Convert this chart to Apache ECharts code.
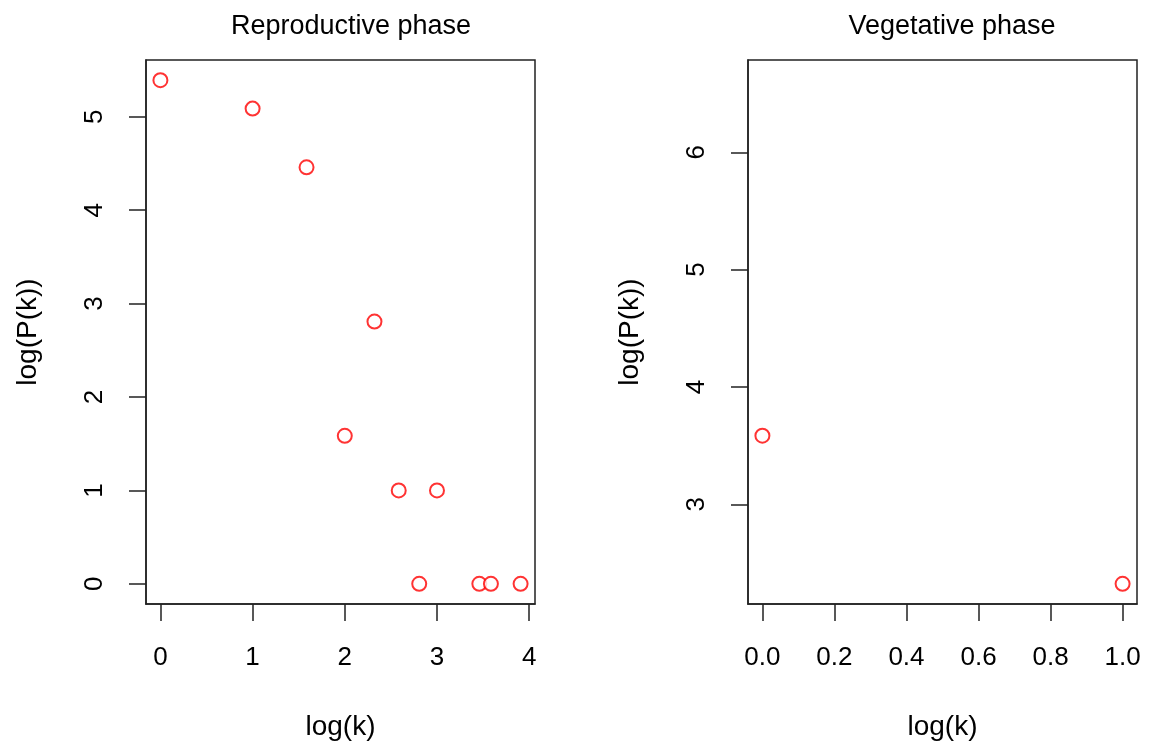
<!DOCTYPE html>
<html>
<head>
<meta charset="utf-8">
<title>log(P(k)) vs log(k)</title>
<script src="https://cdn.jsdelivr.net/npm/echarts@6/dist/echarts.min.js"></script>
<style>
  html, body { margin: 0; padding: 0; background: #fff; }
  #chart { width: 1149px; height: 747px; }
</style>
</head>
<body>
<div id="chart"></div>
<script>
// data (log2 values)
var reproX = [0, 1, 1.585, 2, 2.3219, 2.585, 2.8074, 3, 3.4594, 3.585, 3.9069];
var reproY = [5.3923, 5.0875, 4.4594, 1.585, 2.8074, 1, 0, 1, 0, 0, 0];
var vegX = [0, 1];
var vegY = [3.585, 2.3219];

// tick labels
var reproXTicks = [0, 1, 2, 3, 4];
var reproYTicks = [0, 1, 2, 3, 4, 5];
var vegXTicks = [0, 0.2, 0.4, 0.6, 0.8, 1.0];
var vegYTicks = [3, 4, 5, 6];

var titles = ["Reproductive phase", "Vegetative phase"];

function pairs(xs, ys) {
  return xs.map(function (x, i) { return [x, ys[i]]; });
}

var font = "Liberation Sans, Arial, sans-serif";
var ink = "#222";

function xAxisOf(grid, min, max, ticks, digits) {
  return {
    type: "value",
    gridIndex: grid,
    min: min,
    max: max,
    name: "log(k)",
    nameLocation: "middle",
    nameGap: 109,
    nameMoveOverlap: false,
    nameTextStyle: { fontFamily: font, fontSize: 28, color: "#000" },
    axisLine: { show: true, onZero: false, lineStyle: { color: ink, width: 1.5 } },
    axisTick: { show: true, inside: false, length: 17, customValues: ticks,
      lineStyle: { color: ink, width: 1.5 } },
    axisLabel: { show: true, margin: 41, customValues: ticks,
      fontFamily: font, fontSize: 26, color: "#000",
      formatter: function (v) { return v.toFixed(digits); } },
    splitLine: { show: false }
  };
}

function yAxisOf(grid, min, max, ticks) {
  return {
    type: "value",
    gridIndex: grid,
    min: min,
    max: max,
    name: "log(P(k))",
    nameLocation: "middle",
    nameGap: 104,
    nameMoveOverlap: false,
    nameTextStyle: { fontFamily: font, fontSize: 28, color: "#000" },
    axisLine: { show: true, onZero: false, lineStyle: { color: ink, width: 1.5 } },
    axisTick: { show: true, inside: false, length: 17, customValues: ticks,
      lineStyle: { color: ink, width: 1.5 } },
    axisLabel: { show: true, margin: 38, rotate: 90, customValues: ticks,
      fontFamily: font, fontSize: 26, color: "#000",
      formatter: function (v) { return String(v); } },
    splitLine: { show: false }
  };
}

var chart = echarts.init(document.getElementById("chart"), null, { renderer: "canvas" });

var option = {
  backgroundColor: "#fff",
  animation: false,
  title: [
    { text: titles[0], left: 346, top: 8, textAlign: "center",
      textStyle: { fontFamily: font, fontSize: 27, fontWeight: "normal", color: "#000" } },
    { text: titles[1], left: 947, top: 8, textAlign: "center",
      textStyle: { fontFamily: font, fontSize: 27, fontWeight: "normal", color: "#000" } }
  ],
  grid: [
    { left: 146, top: 60, width: 389, height: 544, show: true,
      borderColor: ink, borderWidth: 1.5, backgroundColor: "transparent" },
    { left: 748, top: 60, width: 389, height: 544, show: true,
      borderColor: ink, borderWidth: 1.5, backgroundColor: "transparent" }
  ],
  // R pads the data range by 4% on each side
  xAxis: [
    xAxisOf(0, -0.15628, 4.06318, reproXTicks, 0),
    xAxisOf(1, -0.04, 1.04, vegXTicks, 1)
  ],
  yAxis: [
    yAxisOf(0, -0.21569, 5.60799, reproYTicks),
    yAxisOf(1, 2.1502, 6.7867, vegYTicks)
  ],
  series: [
    {
      type: "scatter",
      xAxisIndex: 0,
      yAxisIndex: 0,
      data: pairs(reproX, reproY),
      symbol: "emptyCircle",
      symbolSize: 14,
      itemStyle: { color: "#ff0000", borderColor: "#ff0000", borderWidth: 1.6 }
    },
    {
      type: "scatter",
      xAxisIndex: 1,
      yAxisIndex: 1,
      data: pairs(vegX, vegY),
      symbol: "emptyCircle",
      symbolSize: 14,
      itemStyle: { color: "#ff0000", borderColor: "#ff0000", borderWidth: 1.6 }
    }
  ]
};

chart.setOption(option);
window.addEventListener("resize", function () {
  chart.resize();
});
</script>
</body>
</html>
